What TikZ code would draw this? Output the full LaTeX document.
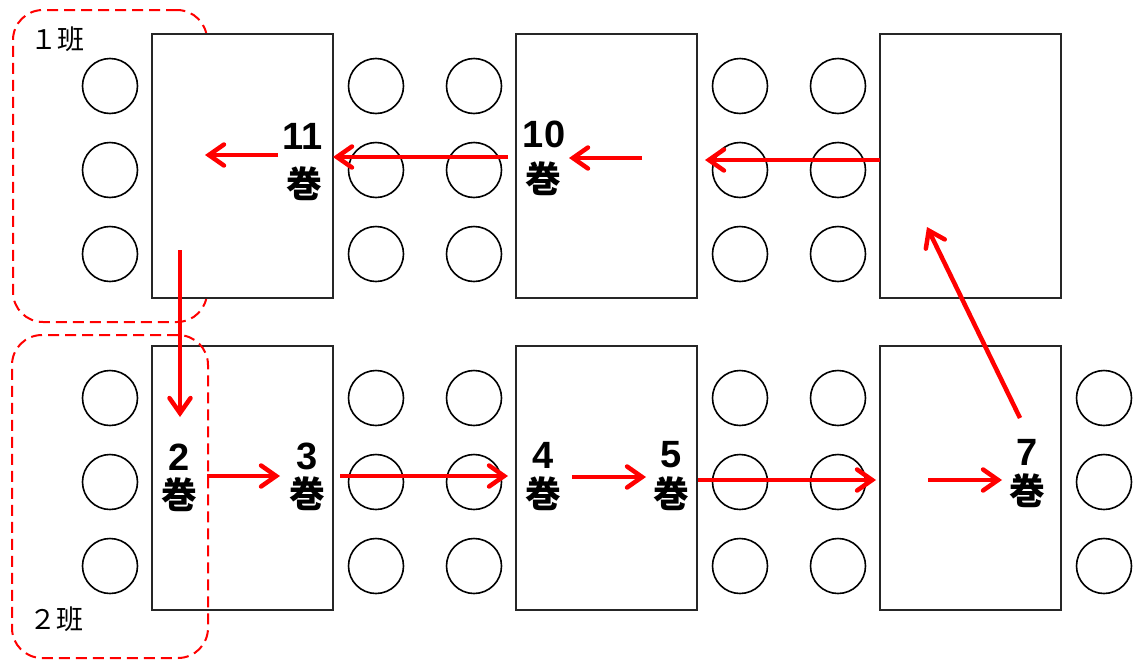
\documentclass[tikz,border=0pt]{standalone}
\usepackage{fontspec}
\newfontfamily\jpfont{Noto Sans CJK JP}
\newfontfamily\numfont{Liberation Sans}
\usetikzlibrary{arrows.meta}
\begin{document}
\begin{tikzpicture}[x=1pt,y=-1pt,
  tbl/.style={draw=black!85, line width=1.8pt, fill=white, rectangle,
    minimum width=181pt, minimum height=264pt, inner sep=0pt},
  seat/.style={draw=black, line width=1.6pt, circle, fill=white,
    minimum size=55pt, inner sep=0pt},
  grp/.style={draw=red, line width=2pt, dash pattern=on 11pt off 6pt,
    rounded corners=30pt, rectangle, inner sep=0pt},
  route/.style={draw=red, line width=4.5pt,
    -{Straight Barb[length=15pt,width=21pt,line cap=round]}},
  num/.style={font=\numfont\bfseries\fontsize{38}{38}\selectfont, inner sep=0pt},
  kan/.style={font=\jpfont\bfseries\fontsize{36}{36}\selectfont, inner sep=0pt},
  grplabel/.style={font=\jpfont\fontsize{27}{27}\selectfont, inner sep=0pt}]
\useasboundingbox (0,0) rectangle (1134,659);
% group 1 (behind tables)
\node[grp, minimum width=194pt, minimum height=312pt] (g1) at (110,166) {};
% tables
\node[tbl] (t1) at (242.5,166) {};
\node[tbl] (t2) at (606.5,166) {};
\node[tbl] (t3) at (970.5,166) {};
\node[tbl] (t4) at (242.5,478) {};
\node[tbl] (t5) at (606.5,478) {};
\node[tbl] (t6) at (970.5,478) {};
% seats top row
\foreach \i/\x in {a/110,b/376,c/474,d/740,e/838}{
  \foreach \j/\y in {1/86,2/170,3/254}{
    \node[seat] (s\i\j) at (\x,\y) {};
  }
}
% seats bottom row
\foreach \i/\x in {a/110,b/376,c/474,d/740,e/838,f/1104}{
  \foreach \j/\y in {1/398,2/482,3/566}{
    \node[seat] (r\i\j) at (\x,\y) {};
  }
}
% group 2 (in front of tables)
\node[grp, minimum width=196pt, minimum height=323pt] (g2) at (110,496.5) {};
% group labels
\node[grplabel] (l1) at (57,39) {１班};
\node[grplabel] (l2) at (56,619) {２班};
% arrow end points
\coordinate (a1s) at (278,155); \coordinate (a1e) at (205,155);
\coordinate (a2s) at (508,157); \coordinate (a2e) at (333,157);
\coordinate (a3s) at (642,158); \coordinate (a3e) at (569,158);
\coordinate (a4s) at (880,160); \coordinate (a4e) at (705,160);
\coordinate (a5s) at (1020,418); \coordinate (a5e) at (927,227);
\coordinate (a6s) at (180,250); \coordinate (a6e) at (180,417);
\coordinate (a7s) at (207,476); \coordinate (a7e) at (280,476);
\coordinate (a8s) at (340,476); \coordinate (a8e) at (508,476);
\coordinate (a9s) at (572,477); \coordinate (a9e) at (646,477);
\coordinate (a10s) at (698,480); \coordinate (a10e) at (876,480);
\coordinate (a11s) at (928,480); \coordinate (a11e) at (1002,480);
\foreach \k in {1,...,11}{
  \draw[route] (a\k s) -- (a\k e);
}
% volume labels
\node[num] (n11) at (303,136) {11}; \node[kan] (k11) at (304,184) {巻};
\node[num] (n10) at (544,134) {10}; \node[kan] (k10) at (543,179) {巻};
\node[num] (n2) at (179,457) {2};  \node[kan] (k2) at (179,495) {巻};
\node[num] (n3) at (307,456) {3};  \node[kan] (k3) at (307,494) {巻};
\node[num] (n4) at (543,455) {4};  \node[kan] (k4) at (543,494) {巻};
\node[num] (n5) at (671,455) {5};  \node[kan] (k5) at (671,494) {巻};
\node[num] (n7) at (1027,452) {7}; \node[kan] (k7) at (1027,491) {巻};
\end{tikzpicture}
\end{document}
